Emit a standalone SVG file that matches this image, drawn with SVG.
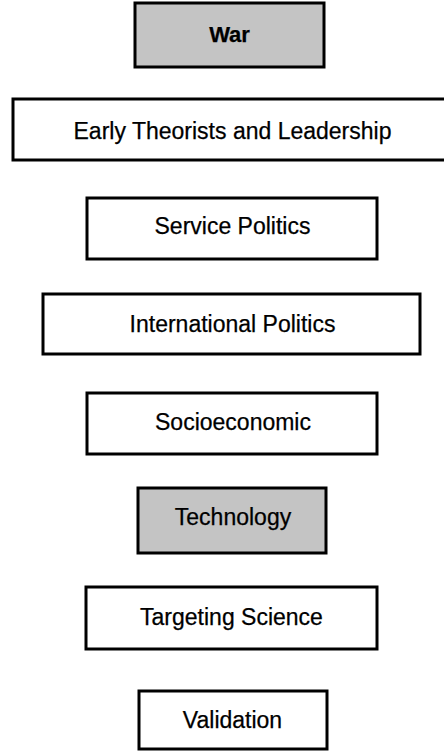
<svg xmlns="http://www.w3.org/2000/svg" width="444" height="751" viewBox="0 0 444 751">
  <style>
    .box { fill: #ffffff; stroke: #000000; stroke-width: 3; }
    .shaded { fill: #c4c4c4; stroke: #000000; stroke-width: 3; }
    .label { font-family: "Liberation Sans", Arial, Helvetica, sans-serif; font-size: 23px; fill: #000000; text-anchor: middle; stroke: #000000; stroke-width: 0.25; }
    .bold { font-weight: 700; font-size: 22px; }
  </style>
  <rect x="0" y="0" width="444" height="751" fill="#ffffff"/>
  <g id="connectors"></g>
  <g id="war">
    <rect class="shaded" x="135" y="3" width="189" height="64"/>
    <text class="label bold" x="229.5" y="42">War</text>
  </g>
  <g id="early-theorists">
    <rect class="box" x="13" y="99" width="440" height="61"/>
    <text class="label" x="232.5" y="139">Early Theorists and Leadership</text>
  </g>
  <g id="service-politics">
    <rect class="box" x="87" y="198" width="290" height="61"/>
    <text class="label" x="232.5" y="234">Service Politics</text>
  </g>
  <g id="international-politics">
    <rect class="box" x="43" y="294" width="377" height="60"/>
    <text class="label" x="232.5" y="332">International Politics</text>
  </g>
  <g id="socioeconomic">
    <rect class="box" x="87" y="393" width="290" height="61"/>
    <text class="label" x="233" y="430">Socioeconomic</text>
  </g>
  <g id="technology">
    <rect class="shaded" x="138" y="488" width="188" height="65"/>
    <text class="label" x="233" y="525">Technology</text>
  </g>
  <g id="targeting-science">
    <rect class="box" x="86" y="587" width="291" height="62"/>
    <text class="label" x="231.5" y="625">Targeting Science</text>
  </g>
  <g id="validation">
    <rect class="box" x="139" y="691" width="188" height="58"/>
    <text class="label" x="232.5" y="728">Validation</text>
  </g>
</svg>
